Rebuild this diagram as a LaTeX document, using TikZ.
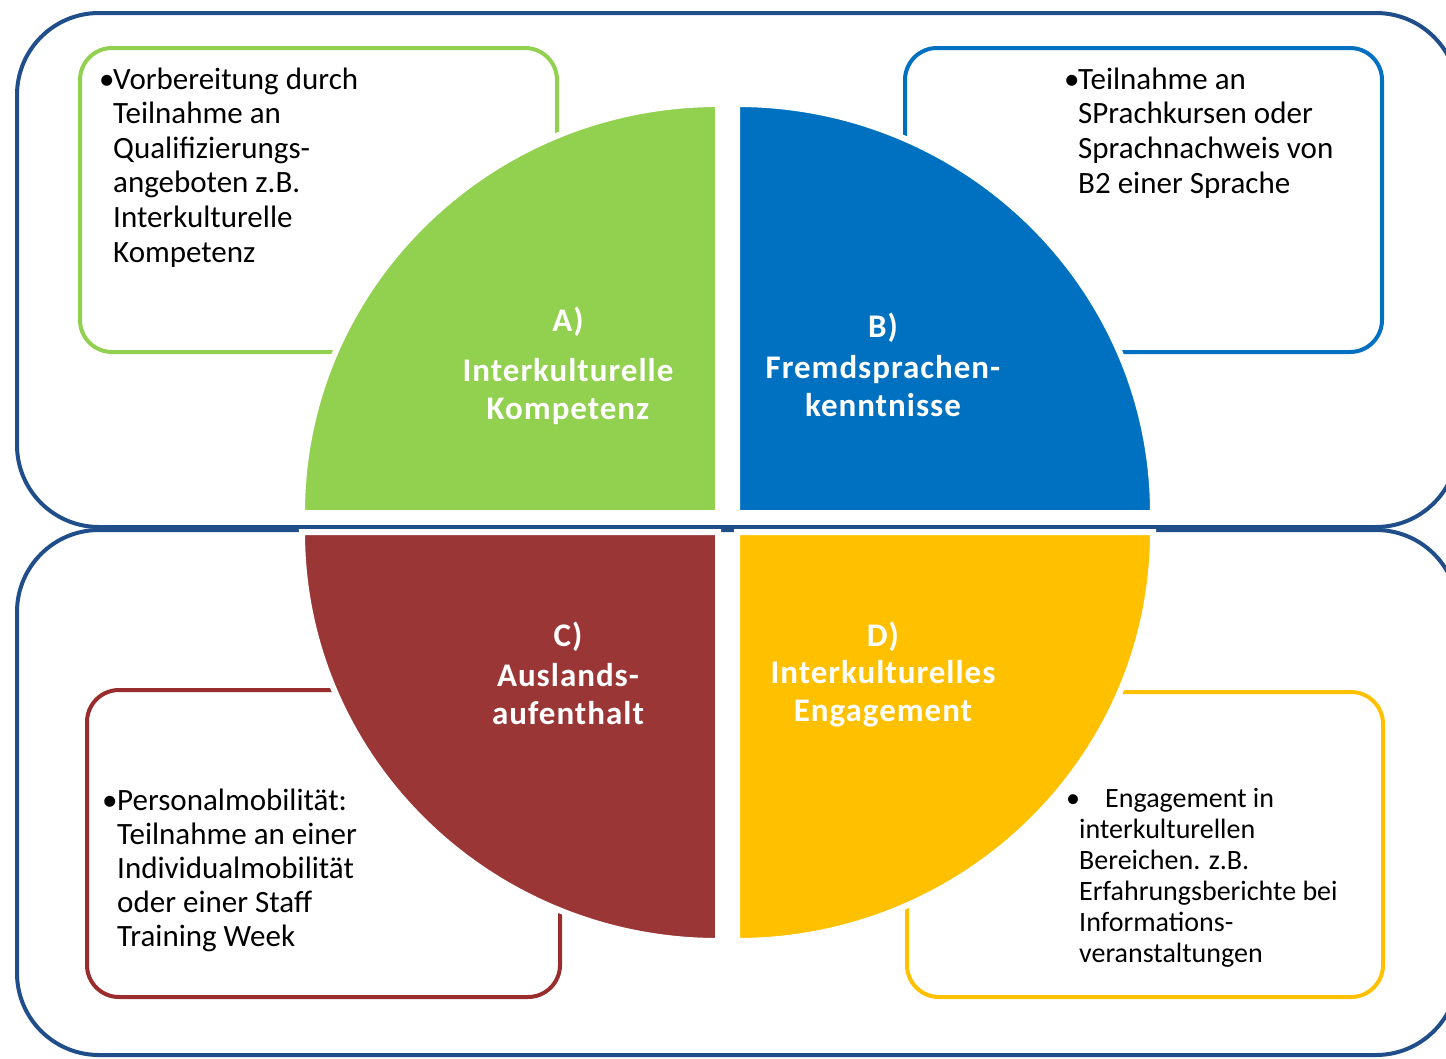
\documentclass[tikz,border=0pt]{standalone}
\usepackage{fontspec}
\setmainfont{Carlito}
\newfontfamily\labelfont[LetterSpace=3]{Carlito}
\definecolor{navy}{HTML}{1F4E8A}
\definecolor{qgreen}{HTML}{92D050}
\definecolor{qblue}{HTML}{0070C0}
\definecolor{qred}{HTML}{9B3636}
\definecolor{qyellow}{HTML}{FFC000}
\definecolor{bred}{HTML}{992D2D}
\tikzset{
  outerbox/.style={draw=navy, line width=4pt, rounded corners=82pt},
  textbox/.style={line width=4pt, rounded corners=32pt, fill=white},
  quad/.style={draw=white, line width=6pt},
  boxtext/.style={inner sep=0pt, align=left, font=\fontsize{31}{34.6}\selectfont},
  rtext/.style={inner sep=0pt, align=left, font=\fontsize{31}{34}\selectfont},
  ytext/.style={inner sep=0pt, align=left, font=\fontsize{28}{31}\selectfont},
  qhead/.style={text=white, inner sep=0pt, align=center, font=\labelfont\bfseries\fontsize{33}{38}\selectfont},
}
\begin{document}
\begin{tikzpicture}[x=1pt,y=1pt,yscale=-1]
\useasboundingbox (0,0) rectangle (1446,1058);
% outer frames
\draw[outerbox] (17,13) rectangle (1458,527);
\draw[outerbox] (17,530) rectangle (1458,1055);
% text boxes
\draw[textbox, draw=qgreen] (80,48) rectangle (557,352);
\draw[textbox, draw=qblue] (905,48) rectangle (1382,352);
\draw[textbox, draw=bred] (87,690) rectangle (560,997);
\draw[textbox, draw=qyellow] (907,692) rectangle (1383,997);
% quadrants
\path[quad, fill=qgreen] (718,513) -- (302,513) arc[start angle=180, end angle=270, x radius=416pt, y radius=409pt] -- cycle;
\path[quad, fill=qblue] (737,513) -- (737,104) arc[start angle=270, end angle=360, x radius=416pt, y radius=409pt] -- cycle;
\path[quad, fill=qred] (718,532) -- (302,532) arc[start angle=180, end angle=90, x radius=416pt, y radius=409pt] -- cycle;
\path[quad, fill=qyellow] (737,532) -- (1153,532) arc[start angle=0, end angle=90, x radius=416pt, y radius=409pt] -- cycle;
% quadrant labels
\node[qhead] (ha) at (568,322) {A)};
\node[qhead] (la) at (568,392) {Interkulturelle\\Kompetenz};
\node[qhead] (hb) at (883,328) {B)};
\node[qhead] (lb) at (883,386) {Fremdsprachen-\\kenntnisse};
\node[qhead] (hc) at (568,637) {C)};
\node[qhead] (lc) at (568,694) {Auslands-\\aufenthalt};
\node[qhead] (hd) at (883,637) {D)};
\node[qhead] (ld) at (883,694) {Interkulturelles\\Engagement};
% box texts (base anchor = baseline of last line)
\node[boxtext, anchor=base west] (bga) at (99,89) {\textbullet};
\node[boxtext, anchor=base west] (tga) at (113,262) {Vorbereitung durch\\Teilnahme an\\Qualifizierungs-\\angeboten z.B.\\Interkulturelle\\Kompetenz};
\node[boxtext, anchor=base west] (bgb) at (1064,89) {\textbullet};
\node[boxtext, anchor=base west] (tgb) at (1078,193) {Teilnahme an\\SPrachkursen oder\\Sprachnachweis von\\B2 einer Sprache};
\node[rtext, anchor=base west] (bgc) at (102,810) {\textbullet};
\node[rtext, anchor=base west] (tgc) at (117,946) {Personalmobilität:\\Teilnahme an einer\\Individualmobilität\\oder einer Staff\\Training Week};
\node[ytext, anchor=base west] (bgd) at (1066,807) {\textbullet};
\node[ytext, anchor=base west] (tgd) at (1079,962) {\hspace*{26pt}Engagement in\\interkulturellen\\Bereichen. z.B.\\Erfahrungsberichte bei\\Informations-\\veranstaltungen};
\end{tikzpicture}
\end{document}
